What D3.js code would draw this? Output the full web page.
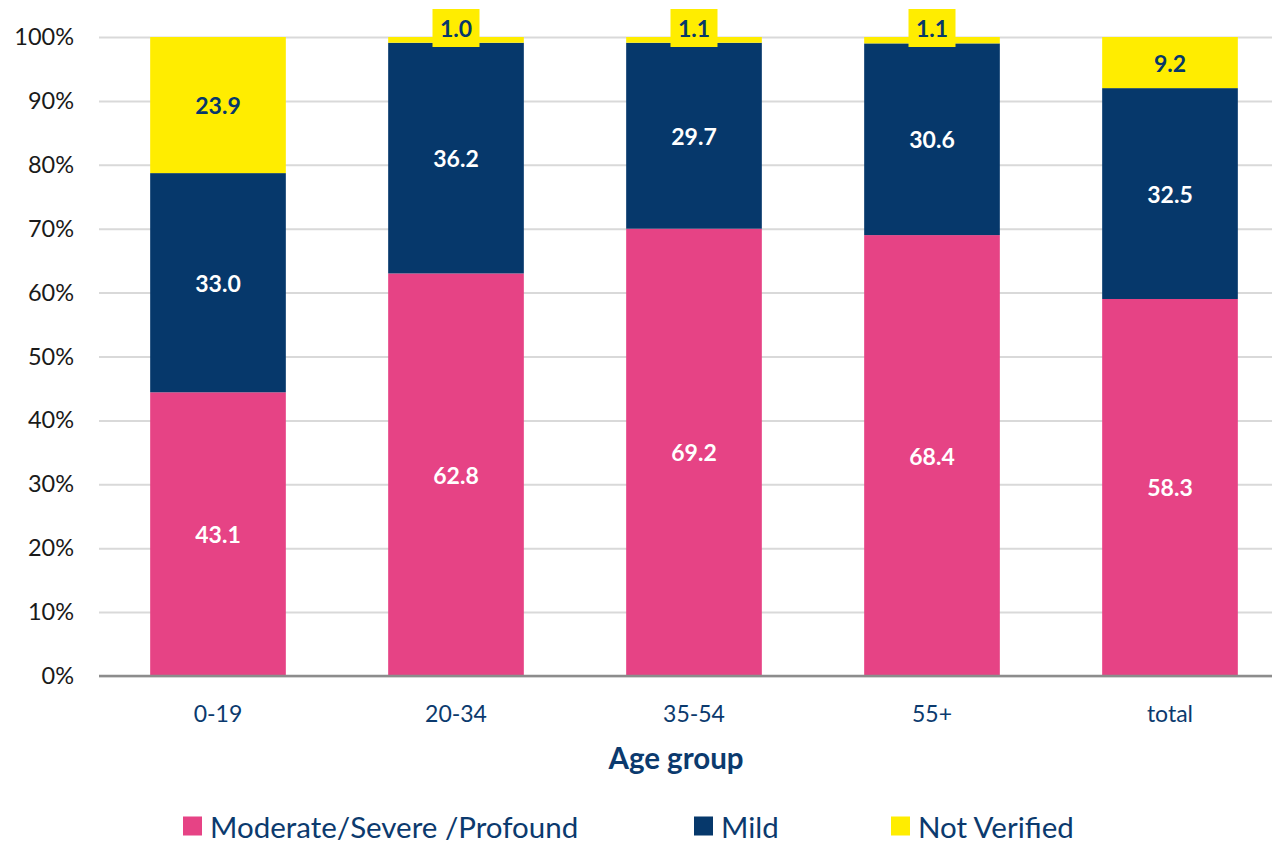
<!DOCTYPE html>
<html>
<head>
<meta charset="utf-8">
<script src="https://cdn.jsdelivr.net/npm/d3@7"></script>
<style>
  body { margin: 0; background: #fff; }
  svg { display: block; font-family: Lato, "Noto Sans", sans-serif; }
</style>
</head>
<body>
<div id="chart"></div>
<script>
// data (bar heights in %, labels as printed)
const categories = ["0-19", "20-34", "35-54", "55+", "total"];
const moderate = [44.4, 63.0, 70.0, 69.0, 59.0];
const mild = [34.3, 36.1, 29.1, 30.0, 33.0];
const notVerified = [21.3, 0.9, 0.9, 1.0, 8.0];
const moderateLabels = ["43.1", "62.8", "69.2", "68.4", "58.3"];
const mildLabels = ["33.0", "36.2", "29.7", "30.6", "32.5"];
const notVerifiedLabels = ["23.9", "1.0", "1.1", "1.1", "9.2"];
const seriesNames = ["Moderate/Severe /Profound", "Mild", "Not Verified"];
const yTicks = [0, 10, 20, 30, 40, 50, 60, 70, 80, 90, 100];

const W = 1272, H = 843;
const plot = { left: 99, right: 1289, top: 37, bottom: 676 };

const colors = ["#e64385", "#06386b", "#ffed00"];
const labelColors = ["#ffffff", "#ffffff", "#06386b"];
const navyText = "#0b3a6e";

const svg = d3.select("#chart").append("svg")
    .attr("width", W)
    .attr("height", H);

const x = d3.scaleBand()
    .domain(categories)
    .range([plot.left, plot.right])
    .paddingInner(0.43)
    .paddingOuter(0.215);

const y = d3.scaleLinear()
    .domain([0, 100])
    .range([plot.bottom, plot.top]);

// gridlines + y labels
const yAxis = svg.append("g")
    .attr("transform", `translate(${plot.left},0)`)
    .call(d3.axisLeft(y)
        .tickValues(yTicks)
        .tickSize(-(plot.right - plot.left))
        .tickPadding(25)
        .tickFormat(d => d + "%"));
yAxis.select(".domain").remove();
yAxis.selectAll(".tick line")
    .attr("stroke", "#d9d9d9")
    .attr("stroke-width", 2);
yAxis.selectAll(".tick text")
    .attr("fill", "#1a1a1a")
    .style("font-size", "23.5px")
    .style("font-family", "Lato, 'Noto Sans', sans-serif");

// stack the data
const table = categories.map((c, i) => ({
    cat: c,
    s0: moderate[i], s1: mild[i], s2: notVerified[i],
    l0: moderateLabels[i], l1: mildLabels[i], l2: notVerifiedLabels[i]
}));
const stack = d3.stack().keys(["s0", "s1", "s2"]);
const series = stack(table);

const layers = svg.selectAll(".layer")
    .data(series)
    .enter()
    .append("g")
    .attr("class", "layer")
    .attr("fill", (d, i) => colors[i]);

layers.selectAll("rect")
    .data(d => d)
    .enter()
    .append("rect")
    .attr("x", d => x(d.data.cat))
    .attr("width", x.bandwidth())
    .attr("y", d => y(d[1]))
    .attr("height", d => y(d[0]) - y(d[1]));

// baseline
svg.append("line")
    .attr("x1", plot.left)
    .attr("x2", plot.right)
    .attr("y1", y(0))
    .attr("y2", y(0))
    .attr("stroke", "#8c8c8c")
    .attr("stroke-width", 2.5);

// value labels
series.forEach((s, si) => {
    s.forEach(d => {
        const cx = x(d.data.cat) + x.bandwidth() / 2;
        const h = y(d[0]) - y(d[1]);
        const txt = d.data["l" + si];
        let cy = (y(d[0]) + y(d[1])) / 2;
        if (h < 20) {
            // tiny segment: label sits in a yellow box above the bar
            cy = y(d[1]) - 9;
            svg.append("rect")
                .attr("x", cx - 23.5)
                .attr("y", cy - 19)
                .attr("width", 47)
                .attr("height", 38)
                .attr("fill", colors[si]);
        }
        svg.append("text")
            .attr("x", cx)
            .attr("y", cy)
            .attr("text-anchor", "middle")
            .attr("dominant-baseline", "central")
            .attr("fill", labelColors[si])
            .style("font-size", "23px")
            .style("font-weight", "bold")
            .text(txt);
    });
});

// x category labels
svg.append("g")
    .selectAll("text")
    .data(categories)
    .enter()
    .append("text")
    .attr("x", d => x(d) + x.bandwidth() / 2)
    .attr("y", 713)
    .attr("text-anchor", "middle")
    .attr("dominant-baseline", "central")
    .attr("fill", navyText)
    .style("font-size", "23px")
    .text(d => d);

// x axis title
svg.append("text")
    .attr("x", 676)
    .attr("y", 757)
    .attr("text-anchor", "middle")
    .attr("dominant-baseline", "central")
    .attr("fill", navyText)
    .style("font-size", "29.5px")
    .style("font-weight", "bold")
    .text("Age group");

// legend
const legendX = [183, 694, 891];
const legend = svg.append("g")
    .selectAll("g")
    .data(seriesNames)
    .enter()
    .append("g")
    .attr("transform", (d, i) => `translate(${legendX[i]},826)`);
legend.append("rect")
    .attr("x", 0)
    .attr("y", -9.5)
    .attr("width", 19)
    .attr("height", 19)
    .attr("fill", (d, i) => colors[i]);
legend.append("text")
    .attr("x", 27)
    .attr("y", 0)
    .attr("dominant-baseline", "central")
    .attr("fill", navyText)
    .style("font-size", "29.5px")
    .text(d => d);
</script>
</body>
</html>
